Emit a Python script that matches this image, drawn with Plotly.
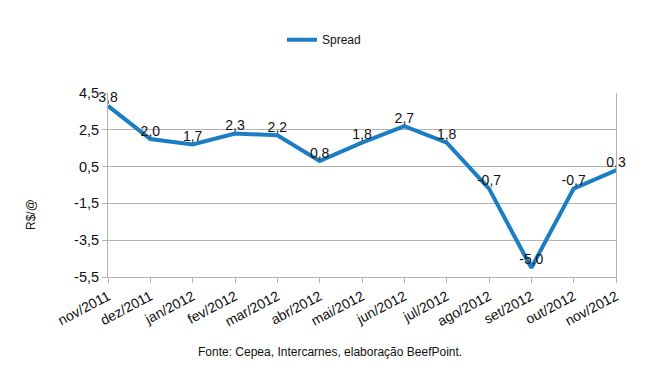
import plotly.graph_objects as go

categories = ["nov/2011", "dez/2011", "jan/2012", "fev/2012", "mar/2012", "abr/2012",
              "mai/2012", "jun/2012", "jul/2012", "ago/2012", "set/2012", "out/2012", "nov/2012"]
spread = [3.8, 2.0, 1.7, 2.3, 2.2, 0.8, 1.8, 2.7, 1.8, -0.7, -5.0, -0.7, 0.3]
ytick_vals = [4.5, 2.5, 0.5, -1.5, -3.5, -5.5]

labels = [f"{v:.1f}".replace(".", ",") for v in spread]
ytick_text = [f"{v:.1f}".replace(".", ",") for v in ytick_vals]

fig = go.Figure()
fig.add_trace(go.Scatter(
    x=list(range(len(categories))), y=spread, mode="lines+text", name="Spread",
    line=dict(color="#1b7dc2", width=4),
    text=labels, textposition="top center",
    textfont=dict(size=14, color="#111111"),
    cliponaxis=False,
))

font = "Liberation Sans, Arial, sans-serif"
fig.update_layout(
    width=648, height=378,
    margin=dict(l=108, r=32, t=93, b=101),
    paper_bgcolor="white", plot_bgcolor="white",
    font=dict(family=font, size=13, color="#111111"),
    showlegend=True,
    legend=dict(orientation="h", xref="container", yref="container",
                x=0.5, y=0.895, xanchor="center", yanchor="middle",
                font=dict(size=12)),
    xaxis=dict(range=[0, 12], tickvals=list(range(len(categories))), ticktext=categories,
               tickangle=-28, showgrid=False, showline=True, linecolor="#b3b3b3",
               ticks="outside", ticklen=5, tickcolor="#b3b3b3", zeroline=False,
               tickfont=dict(size=14), automargin=False),
    yaxis=dict(range=[-5.5, 4.5], tickvals=ytick_vals, ticktext=ytick_text,
               showgrid=True, gridcolor="#b3b3b3", showline=True, linecolor="#b3b3b3",
               mirror=True, ticks="outside", ticklen=5, tickcolor="#b3b3b3",
               zeroline=False, tickfont=dict(size=14.5), automargin=False),
    annotations=[
        dict(text="Fonte: Cepea, Intercarnes, elaboração BeefPoint.",
             xref="paper", yref="paper", x=(330-108)/508, y=-(352-277)/184,
             xanchor="center", yanchor="middle", showarrow=False,
             font=dict(size=12)),
        dict(text="R$/@", textangle=-90, xref="paper", yref="paper",
             x=-(108-31)/508, y=(277-215)/184, xanchor="center", yanchor="middle",
             showarrow=False, font=dict(size=12)),
    ],
)
fig.write_html("out.html", config={"displayModeBar": False},
               post_script="document.body.style.margin='0';")
